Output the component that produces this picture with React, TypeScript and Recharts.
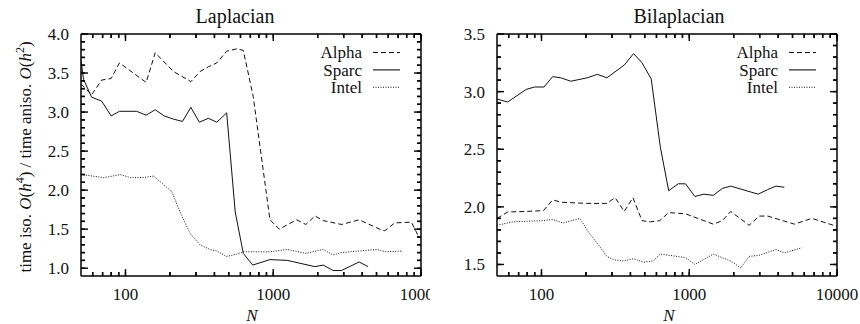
import React from "react";
import { LineChart, Line, XAxis, YAxis, Legend } from "recharts";

const FONT = '"Liberation Serif", "Times New Roman", serif';
const INK = "#111";

const seriesNames = ["Alpha", "Sparc", "Intel"];
const dashes: Record<string, string | undefined> = { Alpha: "5 3", Sparc: undefined, Intel: "1 1.5" };

// N, ratio
const lapAlpha = [
  [50, 3.36], [59, 3.22], [69, 3.41], [80, 3.43], [91, 3.63], [138, 3.38], [159, 3.76], [211, 3.52],
  [277, 3.39], [320, 3.52], [364, 3.58], [415, 3.63], [484, 3.78], [566, 3.81], [627, 3.79], [732, 3.2],
  [950, 1.62], [1098, 1.5], [1439, 1.62], [1663, 1.56], [1914, 1.67], [2178, 1.61], [2899, 1.56],
  [3811, 1.62], [5398, 1.49], [5686, 1.48], [6640, 1.58], [8609, 1.59], [9550, 1.42], [10000, 1.38],
];
const lapSparc = [
  [50, 3.66], [52, 3.42], [59, 3.19], [69, 3.14], [80, 2.95], [91, 3.01], [119, 3.01], [138, 2.96],
  [159, 3.03], [183, 2.95], [211, 2.91], [243, 2.88], [277, 3.06], [316, 2.87], [364, 2.92], [415, 2.87],
  [484, 2.99], [553, 1.72], [627, 1.19], [726, 1.04], [950, 1.11], [1243, 1.1], [1914, 1.02], [2178, 1.04],
  [2541, 0.97], [2899, 0.97], [3811, 1.08], [4385, 1.02],
];
const lapIntel = [
  [50, 2.2], [60, 2.18], [71, 2.16], [82, 2.18], [92, 2.2], [108, 2.16], [130, 2.16], [155, 2.18],
  [206, 1.98], [234, 1.72], [273, 1.45], [319, 1.3], [373, 1.24], [415, 1.22], [484, 1.15], [566, 1.18],
  [627, 1.21], [950, 1.21], [1243, 1.24], [1663, 1.19], [2178, 1.24], [2541, 1.17], [2899, 1.2],
  [3811, 1.22], [5000, 1.24], [5815, 1.21], [7550, 1.22],
];

const bilAlpha = [
  [50, 1.9], [59, 1.955], [77, 1.96], [103, 1.967], [119, 2.06], [137, 2.04], [202, 2.03], [277, 2.03],
  [315, 2.08], [363, 1.96], [416, 2.08], [479, 1.88], [545, 1.87], [631, 1.88], [726, 1.95], [944, 1.94],
  [1257, 1.88], [1455, 1.85], [1675, 1.88], [1909, 1.96], [2543, 1.84], [2975, 1.92], [3396, 1.92],
  [5150, 1.85], [6760, 1.9], [10000, 1.83],
];
const bilSparc = [
  [50, 2.935], [59, 2.91], [79, 3.02], [90, 3.04], [104, 3.04], [119, 3.13], [135, 3.12], [158, 3.09],
  [204, 3.12], [239, 3.15], [277, 3.12], [363, 3.23], [420, 3.33], [479, 3.25], [553, 3.11], [637, 2.52],
  [726, 2.14], [842, 2.2], [944, 2.2], [1092, 2.09], [1257, 2.11], [1455, 2.1], [1675, 2.16], [1909, 2.18],
  [2929, 2.11], [3396, 2.15], [3866, 2.18], [4400, 2.17],
];
const bilIntel = [
  [50, 1.84], [64, 1.87], [100, 1.88], [119, 1.89], [140, 1.86], [182, 1.9], [208, 1.78], [243, 1.67],
  [277, 1.57], [310, 1.54], [359, 1.53], [420, 1.55], [490, 1.52], [568, 1.53], [637, 1.59], [828, 1.57],
  [944, 1.56], [1092, 1.5], [1455, 1.59], [1909, 1.53], [2233, 1.47], [2543, 1.57], [2975, 1.58],
  [3866, 1.63], [4400, 1.6], [5780, 1.645],
];

const xDomain = [50, 10000];
const xMajor = [100, 1000, 10000];
const xMinor = [60, 70, 80, 90, 200, 300, 400, 500, 600, 700, 800, 900, 2000, 3000, 4000, 5000, 6000, 7000, 8000, 9000];
const lapYDomain = [0.9, 4.0];
const bilYDomain = [1.4, 3.5];
const lapYTicks = [
  1.0, 1.1, 1.2, 1.3, 1.4, 1.5, 1.6, 1.7, 1.8, 1.9, 2.0, 2.1, 2.2, 2.3, 2.4, 2.5,
  2.6, 2.7, 2.8, 2.9, 3.0, 3.1, 3.2, 3.3, 3.4, 3.5, 3.6, 3.7, 3.8, 3.9, 4.0,
];
const bilYTicks = [
  1.5, 1.6, 1.7, 1.8, 1.9, 2.0, 2.1, 2.2, 2.3, 2.4, 2.5, 2.6, 2.7, 2.8, 2.9, 3.0,
  3.1, 3.2, 3.3, 3.4, 3.5,
];

const toRows = (pts: number[][]) => pts.map(([n, v]) => ({ n, v }));

const isYMajor = (v: number) => Math.abs(v * 2 - Math.round(v * 2)) < 1e-6;

// inward ticks: built-in tick line gives the short (minor) mark, this adds the long one + labels
function AxisTick(props: any) {
  const { x, y, payload, side } = props;
  const v = payload.value;
  const major = side === "bottom" || side === "top" ? xMajor.includes(v) : isYMajor(v);
  const len = major ? 7 : 4;
  let x2 = x;
  let y2 = y;
  if (side === "bottom") y2 = y - len;
  else if (side === "top") y2 = y + len;
  else if (side === "left") x2 = x + len;
  else x2 = x - len;
  return (
    <g>
      <line x1={x} y1={y} x2={x2} y2={y2} stroke="#000" strokeWidth={1.4} />
      {major && side === "bottom" && (
        <text x={x} y={y + 24} textAnchor="middle" fontFamily={FONT} fontSize={17} fill={INK}>
          {v}
        </text>
      )}
      {major && side === "left" && (
        <text x={x - 12} y={y} dy="0.35em" textAnchor="end" fontFamily={FONT} fontSize={17} fill={INK}>
          {v.toFixed(1)}
        </text>
      )}
    </g>
  );
}

function LegendBox({ payload }: any) {
  const items = [...(payload || [])].sort(
    (a: any, b: any) => seriesNames.indexOf(a.value) - seriesNames.indexOf(b.value)
  );
  return (
    <svg width={120} height={56} style={{ display: "block" }}>
      {items.map((p: any, i: number) => {
        const cy = 9.5 + i * 17.4;
        return (
          <g key={p.value}>
            <text x={82} y={cy} dy="0.35em" textAnchor="end" fontFamily={FONT} fontSize={17} fill={INK}>
              {p.value}
            </text>
            <line x1={93} x2={120} y1={cy} y2={cy} stroke={INK} strokeWidth={1.1} strokeDasharray={dashes[p.value]} />
          </g>
        );
      })}
    </svg>
  );
}

type PanelProps = {
  left: number;
  marginLeft: number;
  marginRight: number;
  legendLeft: number;
  yDomain: number[];
  yTicks: number[];
  alpha: number[][];
  sparc: number[][];
  intel: number[][];
};

function Panel({ left, marginLeft, marginRight, legendLeft, yDomain, yTicks, alpha, sparc, intel }: PanelProps) {
  const axisLine = { stroke: "#000", strokeWidth: 1.5 };
  const tickLine = { stroke: "#000", strokeWidth: 1.4 };
  return (
    <div style={{ position: "absolute", left, top: 0 }}>
      <LineChart width={430} height={324} margin={{ top: 33, right: marginRight, bottom: 18, left: marginLeft }}>
        <XAxis
          xAxisId="b"
          dataKey="n"
          type="number"
          scale="log"
          domain={xDomain}
          allowDataOverflow
          ticks={[...xMajor, ...xMinor]}
          height={30}
          tickLine={tickLine}
          axisLine={axisLine}
          interval={0}
          tickSize={-4}
          tickMargin={4}
          tick={(p: any) => <AxisTick {...p} side="bottom" />}
        />
        <XAxis
          xAxisId="t"
          orientation="top"
          dataKey="n"
          type="number"
          scale="log"
          domain={xDomain}
          allowDataOverflow
          ticks={[...xMajor, ...xMinor]}
          height={1}
          tickLine={tickLine}
          axisLine={axisLine}
          interval={0}
          tickSize={-4}
          tickMargin={4}
          tick={(p: any) => <AxisTick {...p} side="top" />}
        />
        <YAxis
          yAxisId="l"
          type="number"
          domain={yDomain}
          allowDataOverflow
          ticks={yTicks}
          width={40}
          tickLine={tickLine}
          axisLine={axisLine}
          interval={0}
          tickSize={-4}
          tickMargin={4}
          tick={(p: any) => <AxisTick {...p} side="left" />}
        />
        <YAxis
          yAxisId="r"
          orientation="right"
          type="number"
          domain={yDomain}
          allowDataOverflow
          ticks={yTicks}
          width={1}
          tickLine={tickLine}
          axisLine={axisLine}
          interval={0}
          tickSize={-4}
          tickMargin={4}
          tick={(p: any) => <AxisTick {...p} side="right" />}
        />
        <Legend
          layout="vertical"
          align="center"
          verticalAlign="middle"
          wrapperStyle={{ top: 43, left: legendLeft, width: 120, height: 56 }}
          content={(p: any) => <LegendBox payload={p.payload} />}
        />
        <Line
          name="Alpha"
          data={toRows(alpha)}
          dataKey="v"
          xAxisId="b"
          yAxisId="l"
          type="linear"
          stroke={INK}
          strokeWidth={1}
          strokeDasharray={dashes.Alpha}
          dot={false}
          activeDot={false}
          isAnimationActive={false}
        />
        <Line
          name="Sparc"
          data={toRows(sparc)}
          dataKey="v"
          xAxisId="b"
          yAxisId="l"
          type="linear"
          stroke={INK}
          strokeWidth={1}
          dot={false}
          activeDot={false}
          isAnimationActive={false}
        />
        <Line
          name="Intel"
          data={toRows(intel)}
          dataKey="v"
          xAxisId="b"
          yAxisId="l"
          type="linear"
          stroke={INK}
          strokeWidth={1}
          strokeDasharray={dashes.Intel}
          dot={false}
          activeDot={false}
          isAnimationActive={false}
        />
      </LineChart>
    </div>
  );
}

export default function App() {
  return (
    <div style={{ position: "absolute", left: 0, top: 0, width: 860, height: 324, background: "#fff" }}>
      <Panel
        left={0}
        marginLeft={41}
        marginRight={8}
        legendLeft={280}
        yDomain={lapYDomain}
        yTicks={lapYTicks}
        alpha={lapAlpha}
        sparc={lapSparc}
        intel={lapIntel}
      />
      <Panel
        left={430}
        marginLeft={27}
        marginRight={22}
        legendLeft={266}
        yDomain={bilYDomain}
        yTicks={bilYTicks}
        alpha={bilAlpha}
        sparc={bilSparc}
        intel={bilIntel}
      />
      <svg
        width={860}
        height={324}
        style={{ position: "absolute", left: 0, top: 0, pointerEvents: "none" }}
        fontFamily={FONT}
        fill={INK}
      >
        <text x={235} y={23} textAnchor="middle" fontSize={20}>
          Laplacian
        </text>
        <text x={679} y={23} textAnchor="middle" fontSize={20}>
          Bilaplacian
        </text>
        <text x={252} y={321} textAnchor="middle" fontSize={17} fontStyle="italic">
          N
        </text>
        <text x={669} y={321} textAnchor="middle" fontSize={17} fontStyle="italic">
          N
        </text>
        <text transform="translate(31,157) rotate(-90)" textAnchor="middle" fontSize={17}>
          time iso. <tspan fontStyle="italic">O</tspan>(<tspan fontStyle="italic">h</tspan>
          <tspan fontSize={12} dy={-7}>4</tspan>
          <tspan dy={7}>) / time aniso. </tspan>
          <tspan fontStyle="italic">O</tspan>(<tspan fontStyle="italic">h</tspan>
          <tspan fontSize={12} dy={-7}>2</tspan>
          <tspan dy={7}>)</tspan>
        </text>
      </svg>
    </div>
  );
}
